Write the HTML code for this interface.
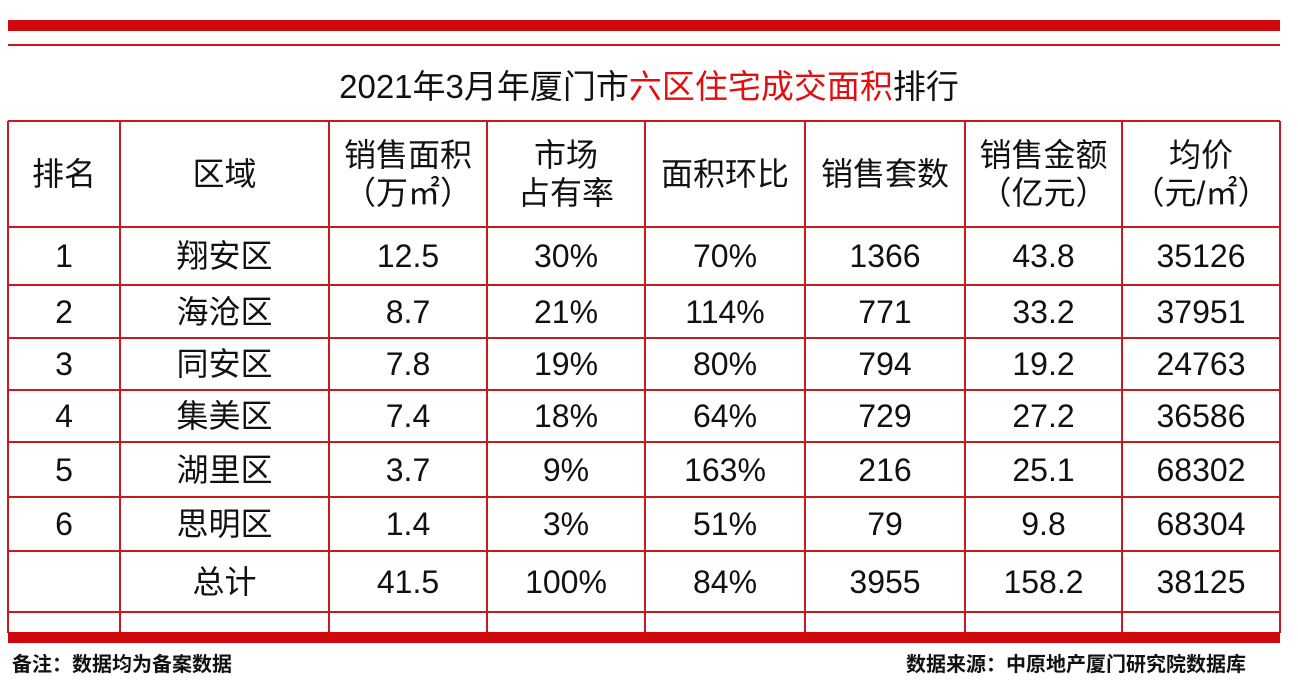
<!DOCTYPE html>
<html><head><meta charset="utf-8"><style>
body{margin:0;width:1298px;height:686px;background:#fff;position:relative;overflow:hidden;font-family:"Liberation Sans","Noto Sans CJK SC",sans-serif;}
.abs{position:absolute}
.hl{position:absolute;background:#c8191e;height:2px}
.vl{position:absolute;background:#c8191e;width:2px;top:121px;height:512px}
.c{position:absolute;text-align:center;font-size:32px;color:#111;line-height:38px}
</style></head><body>
<div class="abs" style="left:8px;top:20px;width:1272px;height:11px;background:#d0090f"></div>
<div class="hl" style="left:8px;top:44px;width:1272px"></div>
<div class="abs" style="left:0;width:1298px;top:60px;text-align:center;font-size:33px;color:#111;">2021年3月年厦门市<span style="color:#e01010">六区住宅成交面积</span>排行</div>
<div class="abs" style="left:8px;top:632px;width:1272px;height:11px;background:#d0090f"></div>
<div id="grid"></div>
<div class="abs" style="left:12px;top:648px;font-size:20px;font-weight:bold;color:#111">备注：数据均为备案数据</div>
<div class="abs" style="right:52px;top:648px;font-size:20px;font-weight:bold;color:#111">数据来源：中原地产厦门研究院数据库</div>
<script>
const cols=[8,120,329,487,645,805,965,1122,1280];
const rows=[121,227,285,338,390,442,497,551,612];
const headers=[["排名"],["区域"],["销售面积","（万㎡）"],["市场","占有率"],["面积环比"],["销售套数"],["销售金额","（亿元）"],["均价","（元/㎡）"]];
const ranks=["1","2","3","4","5","6",""];
const districts=["翔安区","海沧区","同安区","集美区","湖里区","思明区","总计"];
const areas=["12.5","8.7","7.8","7.4","3.7","1.4","41.5"];
const shares=["30%","21%","19%","18%","9%","3%","100%"];
const mom=["70%","114%","80%","64%","163%","51%","84%"];
const units=["1366","771","794","729","216","79","3955"];
const amounts=["43.8","33.2","19.2","27.2","25.1","9.8","158.2"];
const prices=["35126","37951","24763","36586","68302","68304","38125"];
const g=document.getElementById('grid');
rows.forEach(y=>{const d=document.createElement('div');d.className='hl';d.style.cssText=`left:8px;top:${y-1}px;width:1272px`;


g.appendChild(d);});
cols.forEach(x=>{const d=document.createElement('div');d.className='vl';d.style.left=(x-1)+'px';


g.appendChild(d);});
function cell(ci,y0,y1,txt,name){const d=document.createElement('div');d.className='c';
d.style.left=cols[ci]+'px';d.style.width=(cols[ci+1]-cols[ci])+'px';
d.innerHTML=txt;const h=(txt.split('<br>').length)*38;d.style.top=((y0+y1)/2-h/2)+'px';


g.appendChild(d);}
headers.forEach((h,i)=>cell(i,rows[0],rows[1],h.join('<br>'),'header-cell'));
const data=[ranks,districts,areas,shares,mom,units,amounts,prices];
for(let r=0;r<7;r++){data.forEach((arr,c)=>cell(c,rows[r+1],rows[r+2],arr[r],'data-cell'));}
</script>
</body></html>
